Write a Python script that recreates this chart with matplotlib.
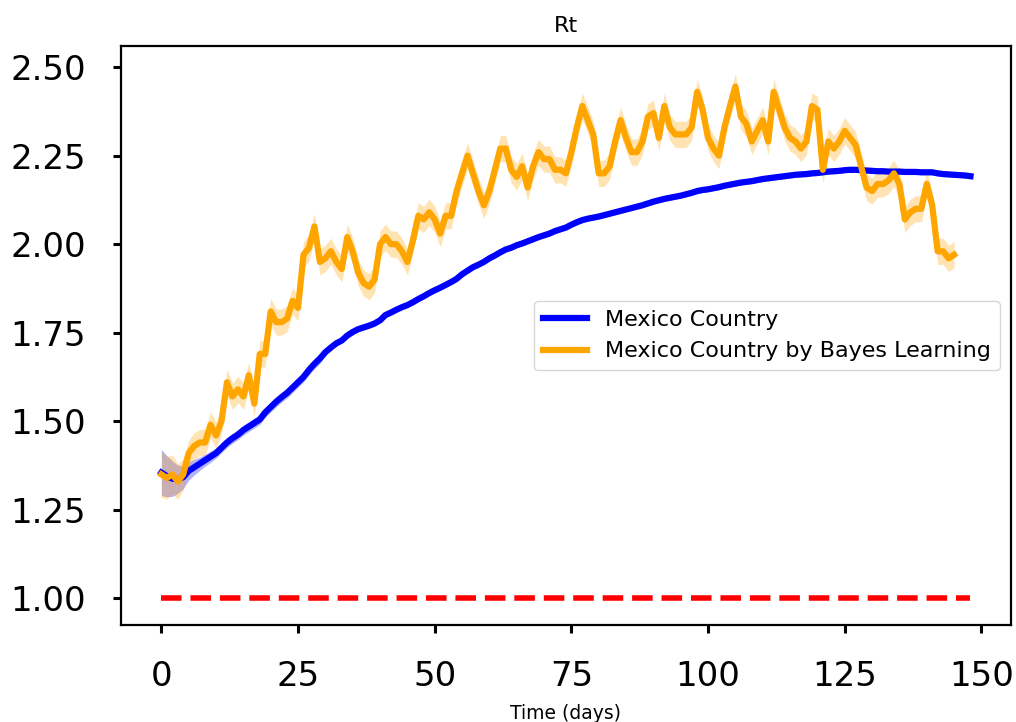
# Rt curve for Mexico: direct estimate vs Bayes learning estimate

import numpy as np
import matplotlib
matplotlib.use('Agg')
import matplotlib.pyplot as plt

# Rt, Mexico Country (days 0..148)
rt_country = [
    1.355, 1.345, 1.338, 1.336, 1.342, 1.360, 1.370, 1.380, 1.390, 1.400,
    1.410, 1.425, 1.440, 1.452, 1.462, 1.475, 1.485, 1.495, 1.505, 1.525,
    1.540, 1.555, 1.568, 1.580, 1.595, 1.610, 1.625, 1.645, 1.662, 1.677,
    1.695, 1.708, 1.720, 1.728, 1.742, 1.752, 1.760, 1.765, 1.770, 1.776,
    1.785, 1.800, 1.807, 1.815, 1.822, 1.828, 1.836, 1.845, 1.853, 1.862,
    1.870, 1.877, 1.885, 1.893, 1.902, 1.915, 1.925, 1.935, 1.942, 1.950,
    1.960, 1.968, 1.977, 1.985, 1.990, 1.997, 2.002, 2.008, 2.014, 2.020,
    2.025, 2.030, 2.037, 2.042, 2.047, 2.055, 2.062, 2.068, 2.072, 2.075,
    2.078, 2.082, 2.086, 2.090, 2.094, 2.098, 2.102, 2.106, 2.110, 2.115,
    2.120, 2.124, 2.128, 2.131, 2.134, 2.137, 2.141, 2.145, 2.150, 2.153,
    2.155, 2.158, 2.161, 2.165, 2.168, 2.171, 2.174, 2.176, 2.178, 2.181,
    2.184, 2.186, 2.188, 2.190, 2.192, 2.194, 2.196, 2.197, 2.198, 2.200,
    2.201, 2.203, 2.205, 2.206, 2.207, 2.209, 2.210, 2.210, 2.209, 2.208,
    2.207, 2.206, 2.206, 2.205, 2.205, 2.205, 2.204, 2.204, 2.204, 2.203,
    2.203, 2.203, 2.200, 2.198, 2.197, 2.196, 2.195, 2.194, 2.192,
]
rt_country_err = [0.065, 0.058, 0.05, 0.04, 0.032, 0.026, 0.022, 0.019, 0.017, 0.016] \
    + [0.014] * 20 + [0.007] * 119

# Rt, Mexico Country by Bayes Learning (days 0..145)
rt_bayes = [
    1.35, 1.34, 1.35, 1.33, 1.35, 1.41, 1.43, 1.44, 1.44, 1.49,
    1.46, 1.50, 1.61, 1.57, 1.59, 1.57, 1.63, 1.55, 1.69, 1.69,
    1.81, 1.78, 1.78, 1.79, 1.84, 1.82, 1.97, 1.99, 2.05, 1.95,
    1.96, 1.98, 1.95, 1.93, 2.02, 1.98, 1.92, 1.89, 1.88, 1.90,
    2.00, 2.02, 2.00, 2.00, 1.98, 1.95, 2.01, 2.08, 2.07, 2.09,
    2.07, 2.03, 2.08, 2.08, 2.15, 2.20, 2.25, 2.20, 2.15, 2.11,
    2.15, 2.21, 2.27, 2.27, 2.21, 2.19, 2.22, 2.16, 2.22, 2.26,
    2.24, 2.24, 2.21, 2.21, 2.20, 2.26, 2.33, 2.39, 2.35, 2.31,
    2.20, 2.20, 2.22, 2.29, 2.35, 2.30, 2.26, 2.26, 2.29, 2.36,
    2.37, 2.30, 2.39, 2.33, 2.31, 2.31, 2.31, 2.33, 2.43, 2.38,
    2.30, 2.27, 2.25, 2.33, 2.39, 2.445, 2.36, 2.34, 2.29, 2.32,
    2.35, 2.29, 2.43, 2.38, 2.33, 2.30, 2.29, 2.27, 2.29, 2.39,
    2.38, 2.21, 2.29, 2.27, 2.29, 2.32, 2.30, 2.28, 2.22, 2.16,
    2.15, 2.17, 2.17, 2.18, 2.20, 2.17, 2.07, 2.09, 2.10, 2.10,
    2.17, 2.11, 1.98, 1.98, 1.96, 1.97,
]
rt_bayes_err = [0.065, 0.06, 0.055, 0.05, 0.045] + [0.037] * 141

days_country = np.arange(len(rt_country))
days_bayes = np.arange(len(rt_bayes))
rt_country = np.array(rt_country)
rt_bayes = np.array(rt_bayes)
rt_country_err = np.array(rt_country_err)
rt_bayes_err = np.array(rt_bayes_err)

fig = plt.figure(figsize=(10.16, 7.22), dpi=100)
ax = fig.add_axes([0.119, 0.134, 0.876, 0.802])

ax.fill_between(days_country, rt_country - rt_country_err, rt_country + rt_country_err,
                color='blue', alpha=0.3, linewidth=0)
ax.plot(days_country, rt_country, color='blue', lw=4.5, label='Mexico Country')
ax.fill_between(days_bayes, rt_bayes - rt_bayes_err, rt_bayes + rt_bayes_err,
                color='orange', alpha=0.3, linewidth=0)
ax.plot(days_bayes, rt_bayes, color='orange', lw=4.5,
        label='Mexico Country by Bayes Learning')
ax.plot(days_country, np.ones(len(days_country)), 'r--', lw=4)

ax.set_xlim(-7.4, 155.4)
ax.set_ylim(0.924, 2.559)
ax.set_xticks([0, 25, 50, 75, 100, 125, 150])
ax.set_yticks([1.00, 1.25, 1.50, 1.75, 2.00, 2.25, 2.50])
ax.set_yticklabels(['%.2f' % v for v in ax.get_yticks()])
ax.tick_params(labelsize=24.5, length=6, width=2.2, pad=19)
for s in ax.spines.values():
    s.set_linewidth(1.6)

ax.set_title('Rt', fontsize=16, pad=10)
ax.set_xlabel('Time (days)', fontsize=13.5, labelpad=8)
ax.legend(loc='center right', fontsize=16)

fig.savefig('out.png', dpi=100)
